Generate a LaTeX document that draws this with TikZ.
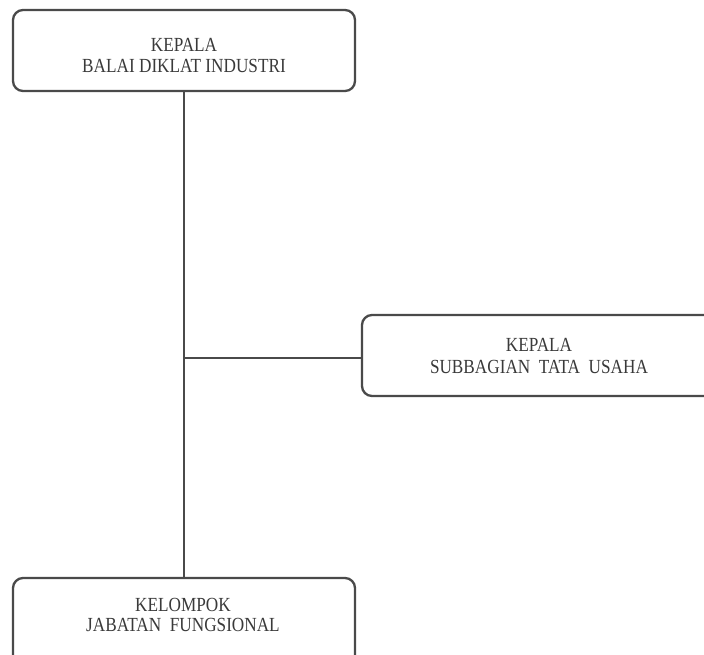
\documentclass[tikz,border=0pt]{standalone}
\usepackage{fontspec}
\setmainfont[FakeStretch=0.86]{Liberation Serif}
\definecolor{linegray}{HTML}{4A4A4A}
\definecolor{textgray}{HTML}{3A3A3A}
\begin{document}
\begin{tikzpicture}[x=1pt,y=-1pt,
  orgbox/.style={draw=linegray, line width=2.3pt, rounded corners=10pt, fill=white},
  lbl/.style={anchor=base, inner sep=0pt, text=textgray, font=\fontsize{20}{20}\selectfont},
  conn/.style={draw=linegray, line width=2.3pt}]
\useasboundingbox (0,0) rectangle (704,654);
\fill[white] (0,0) rectangle (704,654);
% boxes
\draw[orgbox] (13,10) rectangle (355,91);
\node[inner sep=0pt, minimum width=342pt, minimum height=81pt] (top) at (184,50.5) {};
\draw[orgbox] (362,315) rectangle (720,396);
\node[inner sep=0pt, minimum width=358pt, minimum height=81pt] (sub) at (541,355.5) {};
\draw[orgbox] (13,578) rectangle (355,670);
\node[inner sep=0pt, minimum width=342pt, minimum height=92pt] (bot) at (184,624) {};
% connectors
\coordinate (j) at (184,358);
\draw[conn] (top.south) -- (bot.north);
\draw[conn] (j) -- (j -| sub.west);
% texts
\node[lbl] (t1) at (184,51) {KEPALA};
\node[lbl] (t2) at (184,72) {BALAI DIKLAT INDUSTRI};
\node[lbl] (s1) at (539,351) {KEPALA};
\node[lbl] (s2) at (539,373) {SUBBAGIAN\ \ TATA\ \ USAHA};
\node[lbl] (b1) at (183,611) {KELOMPOK};
\node[lbl] (b2) at (183,631) {JABATAN\ \ FUNGSIONAL};
\end{tikzpicture}
\end{document}
